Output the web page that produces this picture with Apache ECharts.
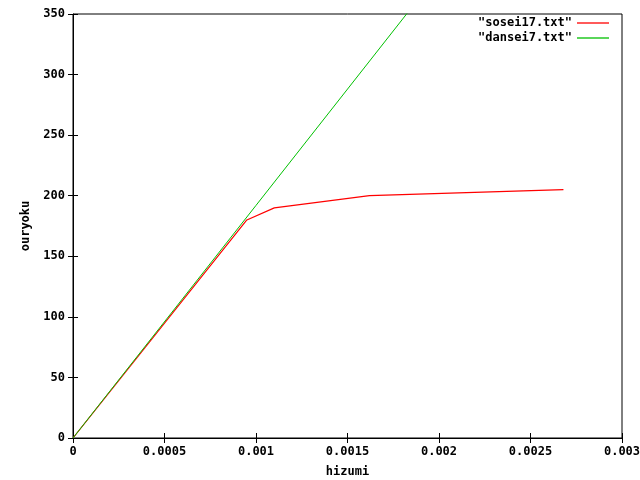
<!DOCTYPE html>
<html><head><meta charset="utf-8">
<script src="https://cdn.jsdelivr.net/npm/echarts@6/dist/echarts.min.js"></script>
<style>html,body{margin:0;padding:0;background:#fff}#c{width:640px;height:480px}</style>
</head><body><div id="c"></div>
<script>
const soseiX = [0, 0.00095, 0.0011, 0.00162, 0.00268];
const soseiY = [0, 180, 190, 200, 205];
const danseiX = [0, 0.001, 0.002];
const danseiY = [0, 192, 384];
const xTicks = ['0','0.0005','0.001','0.0015','0.002','0.0025','0.003'];
const yTicks = ['0','50','100','150','200','250','300','350'];

const font = '"DejaVu Sans Mono", "Liberation Mono", monospace';
const chart = echarts.init(document.getElementById('c'));
const tickLine = {show:true, inside:true, length:5, lineStyle:{color:'#000', width:1}};
chart.setOption({
  animation:false,
  backgroundColor:'#fff',
  grid:{left:73, right:18, top:14, bottom:42, show:true, borderColor:'#000', borderWidth:1,
        containLabel:false, outerBoundsMode:'none'},
  legend:{
    orient:'vertical', right:26, top:12, align:'right', itemWidth:32, itemHeight:10, itemGap:3,
    textStyle:{fontFamily:font, fontWeight:'bold', fontSize:12, color:'#000'},
    data:[{name:'"sosei17.txt"', icon:'path://M0,0L32,0L32,1.3L0,1.3Z'},{name:'"dansei7.txt"', icon:'path://M0,0L32,0L32,1.3L0,1.3Z'}]
  },
  xAxis:[{
    type:'value', min:0, max:0.003, interval:0.0005,
    name:'hizumi', nameLocation:'middle', nameGap:28,
    nameTextStyle:{fontFamily:font, fontWeight:'bold', fontSize:12, color:'#000'},
    axisLine:{show:true, onZero:false, lineStyle:{color:'#000'}},
    axisTick:tickLine, splitLine:{show:false},
    axisLabel:{fontFamily:font, fontWeight:'bold', fontSize:12, color:'#000', margin:8,
      formatter:(v)=>{const i=Math.round(v/0.0005);return xTicks[i]!==undefined?xTicks[i]:'';}}
  },{
    type:'value', position:'top', min:0, max:0.003, interval:0.0005,
    axisLine:{show:false}, axisTick:tickLine, axisLabel:{show:false}, splitLine:{show:false}
  }],
  yAxis:[{
    type:'value', min:0, max:350, interval:50,
    name:'ouryoku', nameLocation:'middle', nameGap:41, nameRotate:90,
    nameTextStyle:{fontFamily:font, fontWeight:'bold', fontSize:12, color:'#000'},
    axisLine:{show:true, lineStyle:{color:'#000'}},
    axisTick:tickLine, splitLine:{show:false},
    axisLabel:{fontFamily:font, fontWeight:'bold', fontSize:12, color:'#000', margin:8,
      formatter:(v)=>{const i=Math.round(v/50);return yTicks[i]!==undefined?yTicks[i]:'';}}
  },{
    type:'value', position:'right', min:0, max:350, interval:50,
    axisLine:{show:false}, axisTick:tickLine, axisLabel:{show:false}, splitLine:{show:false}
  }],
  series:[{
    name:'"sosei17.txt"', type:'line', color:'#ff0000', showSymbol:false, symbol:'none',
    lineStyle:{width:1.2, color:'#ff0000'}, clip:true,
    data: soseiX.map((x,i)=>[x, soseiY[i]])
  },{
    name:'"dansei7.txt"', type:'line', color:'#00c000', showSymbol:false, symbol:'none',
    lineStyle:{width:1, color:'#00c000'}, clip:true,
    data: danseiX.map((x,i)=>[x, danseiY[i]])
  }]
});
</script></body></html>
